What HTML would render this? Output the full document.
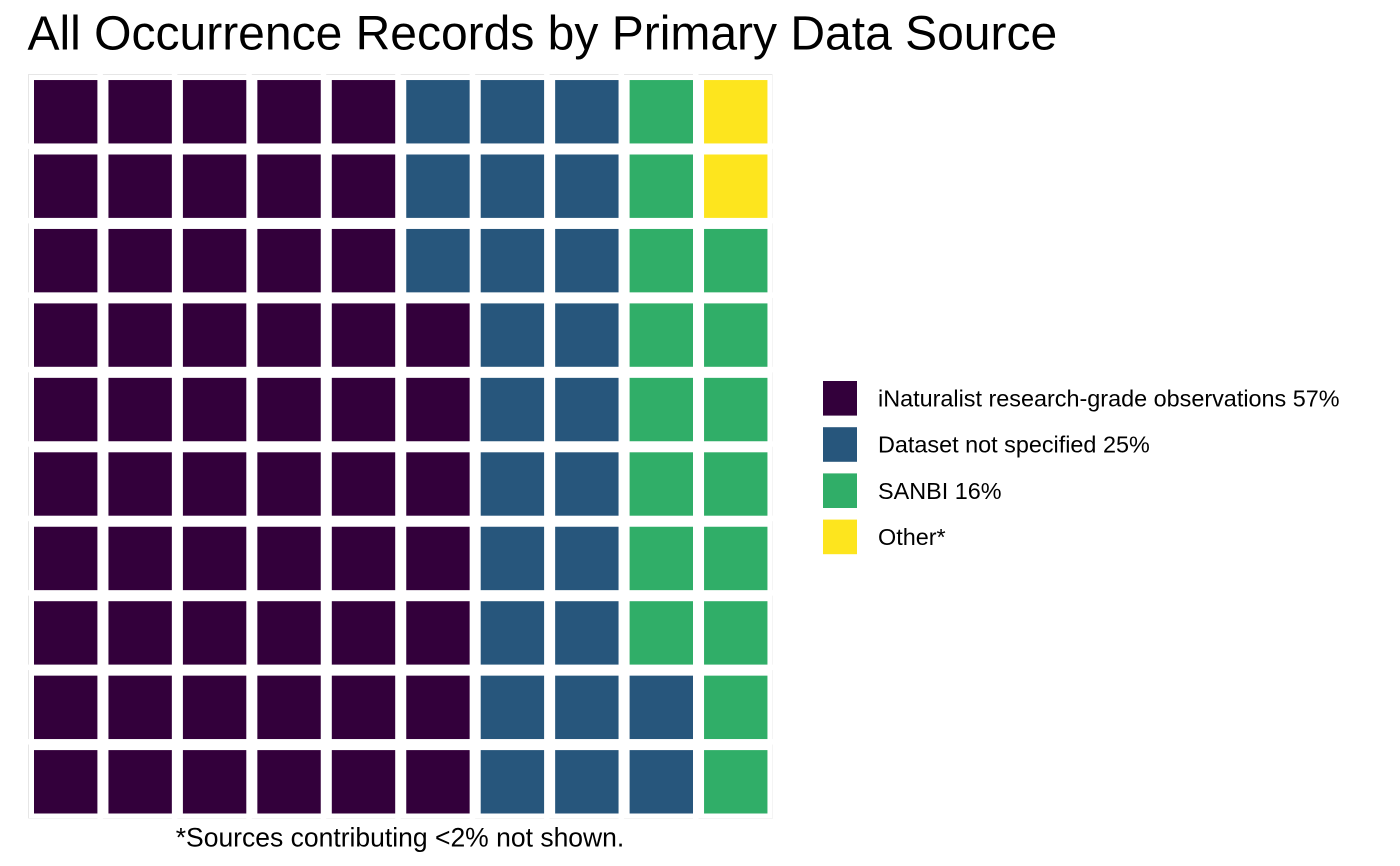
<!DOCTYPE html>
<html lang="en">
<head>
<meta charset="utf-8">
<title>All Occurrence Records by Primary Data Source</title>
<style>
html,body{margin:0;padding:0;background:#fff;width:1400px;height:866px;overflow:hidden}
svg{display:block}
text{font-family:"Liberation Sans",Arial,sans-serif;fill:#000}
</style>
</head>
<body>
<svg id="chart" xmlns="http://www.w3.org/2000/svg" width="1400" height="866" viewBox="0 0 1400 866">
  <rect x="0" y="0" width="1400" height="866" fill="#ffffff"/>
  <text x="27.5" y="49.5" font-size="48">All Occurrence Records by Primary Data Source</text>
  <line x1="28" y1="74.5" x2="773" y2="74.5" stroke="#e6e6e6" stroke-width="1"/>
  <line x1="28.5" y1="74" x2="28.5" y2="819" stroke="#e6e6e6" stroke-width="1"/>
  <line x1="28" y1="818.5" x2="773" y2="818.5" stroke="#f4f4f4" stroke-width="1"/>
  <line x1="772.5" y1="74" x2="772.5" y2="819" stroke="#f4f4f4" stroke-width="1"/>
  <g id="gaps"></g>
  <g id="cells"></g>
  <g id="legend"></g>
  <text x="400" y="846.5" font-size="26.5" text-anchor="middle">*Sources contributing &lt;2% not shown.</text>
</svg>
<script>
const categories = ["iNaturalist research-grade observations", "Dataset not specified", "SANBI", "Other"];
const cellCounts = [57, 25, 16, 2];
const legendLabels = ["iNaturalist research-grade observations 57%", "Dataset not specified 25%", "SANBI 16%", "Other*"];
const seriesColors = ["#33003b", "#27567c", "#30ae68", "#fde51e"];

const NS = "http://www.w3.org/2000/svg";
const GRID_ROWS = 10;
const GRID_LEFT = 34;
const GRID_BOTTOM = 813.5;
const CELL_PITCH = 74.45;
const CELL_SIZE = 63.4;

function colX(col) { return GRID_LEFT + col * CELL_PITCH; }
function rowY(row) { return GRID_BOTTOM - CELL_SIZE - row * CELL_PITCH; }

const cellsGroup = document.getElementById("cells");
let position = 0;
categories.forEach(function (category, seriesIndex) {
  for (let n = 0; n < cellCounts[seriesIndex]; n++) {
    const col = Math.floor(position / GRID_ROWS);
    const row = position % GRID_ROWS;
    const cell = document.createElementNS(NS, "rect");
    cell.setAttribute("x", colX(col));
    cell.setAttribute("y", rowY(row));
    cell.setAttribute("width", CELL_SIZE);
    cell.setAttribute("height", CELL_SIZE);
    cell.setAttribute("fill", seriesColors[seriesIndex]);
    
    
    const tip = document.createElementNS(NS, "title");
    tip.textContent = category;
    cell.appendChild(tip);
    cellsGroup.appendChild(cell);
    position++;
  }
});

const gapsGroup = document.getElementById("gaps");
for (let i = 0; i < GRID_ROWS - 1; i++) {
  const xGap = colX(i) + CELL_SIZE;
  const yGap = rowY(i + 1) + CELL_SIZE;
  [[xGap, 73, 5.5, 3], [xGap, 817, 5.5, 3], [27, yGap, 3, 5.5], [771, yGap, 3, 5.5]].forEach(function (g) {
    const gap = document.createElementNS(NS, "rect");
    gap.setAttribute("x", g[0]);
    gap.setAttribute("y", g[1]);
    gap.setAttribute("width", g[2]);
    gap.setAttribute("height", g[3]);
    gap.setAttribute("fill", "#ffffff");
    
    
    gapsGroup.appendChild(gap);
  });
}

const legendGroup = document.getElementById("legend");
const LEGEND_TOP = 381;
const LEGEND_PITCH = 46.2;
legendLabels.forEach(function (label, i) {
  const swatch = document.createElementNS(NS, "rect");
  swatch.setAttribute("x", 823);
  swatch.setAttribute("y", LEGEND_TOP + i * LEGEND_PITCH);
  swatch.setAttribute("width", 34);
  swatch.setAttribute("height", 34.6);
  swatch.setAttribute("fill", seriesColors[i]);
  
  
  legendGroup.appendChild(swatch);
  const text = document.createElementNS(NS, "text");
  text.setAttribute("x", 878);
  text.setAttribute("y", LEGEND_TOP + i * LEGEND_PITCH + 25.5);
  text.setAttribute("font-size", "23.4");
  text.textContent = label;
  
  
  legendGroup.appendChild(text);
});
</script>
</body>
</html>
